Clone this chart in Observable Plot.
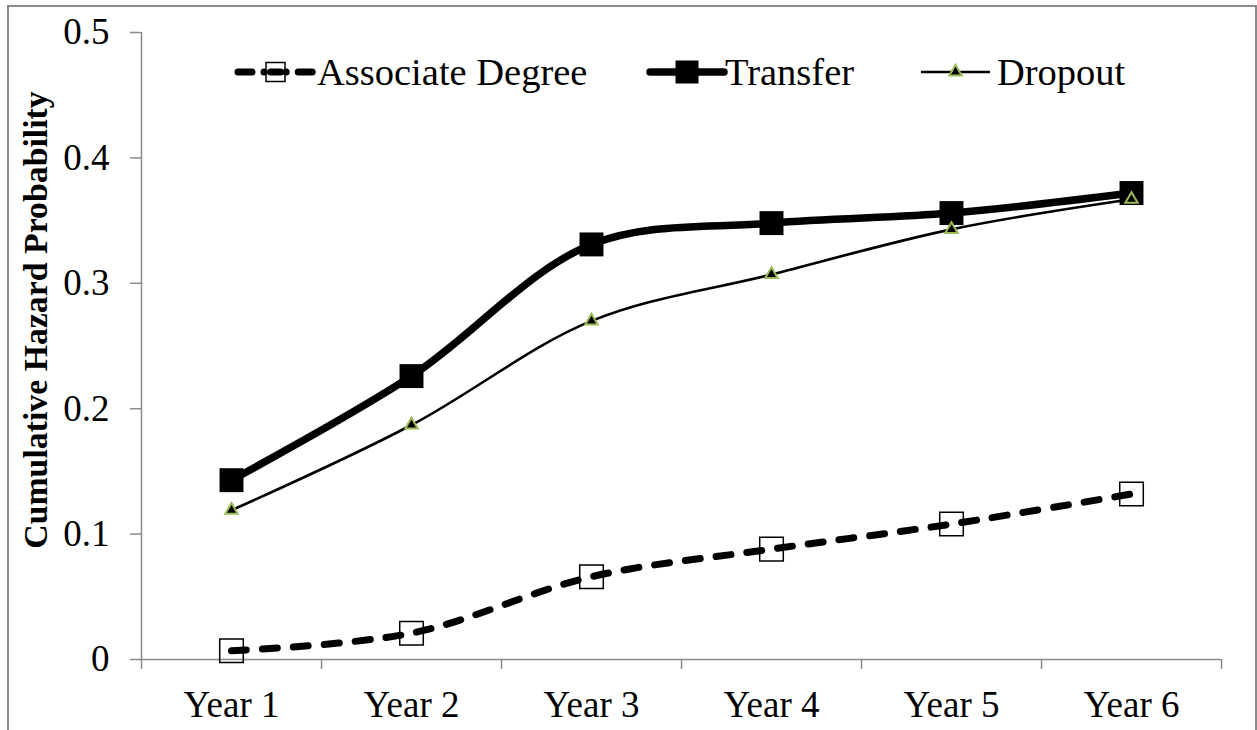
<!DOCTYPE html>
<html>
<head>
<meta charset="utf-8">
<script src="https://cdn.jsdelivr.net/npm/d3@7"></script>
<script src="https://cdn.jsdelivr.net/npm/@observablehq/plot@0.6"></script>
<style>
  html, body { margin: 0; padding: 0; background: #fff; }
  #wrap { position: relative; width: 1257px; height: 730px; overflow: hidden; font-family: "Liberation Serif", "Times New Roman", serif; }
  #frame { position: absolute; left: 7px; top: 5px; width: 1250px; height: 800px; border-left: 2px solid #8a8a8a; border-top: 2px solid #8a8a8a; border-right: 2px solid #8a8a8a; box-sizing: border-box; pointer-events: none; }
  #chart { position: absolute; left: 0; top: 0; }
  #legend { position: absolute; left: 0; top: 0; }
</style>
</head>
<body>
<div id="wrap">
  <div id="chart"></div>
  <div id="legend"></div>
  <div id="frame"></div>
</div>
<script>
const categories = ["Year 1", "Year 2", "Year 3", "Year 4", "Year 5", "Year 6"];
const associateDegree = [0.007, 0.021, 0.066, 0.088, 0.108, 0.132];
const transfer = [0.143, 0.226, 0.331, 0.348, 0.356, 0.372];
const dropout = [0.119, 0.187, 0.270, 0.307, 0.343, 0.367];
const yTicks = [0, 0.1, 0.2, 0.3, 0.4, 0.5];
const seriesNames = ["Associate Degree", "Transfer", "Dropout"];
const yLabel = "Cumulative Hazard Probability";

const pos = categories.map((c, i) => i + 1);
const boundaries = [0.5, ...pos.map(p => p + 0.5)];
const toRows = vals => vals.map((v, i) => ({x: pos[i], y: v, cat: categories[i]}));
const assocRows = toRows(associateDegree);
const transferRows = toRows(transfer);
const dropoutRows = toRows(dropout);

const axisGray = "#8a8a8a";
const green = "#9BBB59";
const FONT = "'Liberation Serif', 'Times New Roman', serif";

const plot = Plot.plot({
  width: 1257,
  height: 730,
  marginLeft: 141,
  marginRight: 36,
  marginTop: 32,
  marginBottom: 71,
  style: {fontFamily: FONT, fontSize: "37px", color: "#000", background: "#fff"},
  x: {type: "linear", domain: [0.5, 6.5]},
  y: {domain: [0, 0.5]},
  marks: [
    Plot.ruleY([0], {stroke: axisGray, strokeWidth: 1.5}),
    Plot.ruleX([0.5], {y1: 0, y2: 0.5, stroke: axisGray, strokeWidth: 1.5}),
    Plot.axisY({ticks: yTicks, tickSize: 11, tickPadding: 21, stroke: axisGray, strokeWidth: 1.5, tickFormat: d => String(d), label: null, fill: "#000", fontSize: 37}),
    Plot.axisX({ticks: boundaries, tickSize: 10, tickFormat: () => "", stroke: axisGray, strokeWidth: 1.5, label: null}),
    Plot.axisX({ticks: pos, tickSize: 0, tickPadding: 31, tickFormat: d => categories[d - 1], label: null, fill: "#000", fontSize: 37}),
    Plot.text([yLabel], {frameAnchor: "left", textAnchor: "middle", dx: -105, dy: -26, rotate: -90, text: d => d, fontWeight: "bold", fontSize: 33.8, fill: "#000"}),
    // Associate Degree
    Plot.line(assocRows, {x: "x", y: "y", curve: "catmull-rom", stroke: "#000", strokeWidth: 7, strokeDasharray: "15,16", strokeLinecap: "round"}),
    Plot.dot(assocRows, {x: "x", y: "y", symbol: "square", r: 13.3, fill: "none", stroke: "#000", strokeWidth: 1.5}),
    // Transfer
    Plot.line(transferRows, {x: "x", y: "y", curve: "catmull-rom", stroke: "#000", strokeWidth: 7.5, strokeLinecap: "round"}),
    Plot.dot(transferRows, {x: "x", y: "y", symbol: "square", r: 13.5, fill: "#000", stroke: "none"}),
    // Dropout
    Plot.line(dropoutRows, {x: "x", y: "y", curve: "catmull-rom", stroke: "#000", strokeWidth: 2.6}),
    Plot.dot(dropoutRows, {x: "x", y: "y", symbol: "triangle", r: 4.6, fill: "#000", stroke: green, strokeWidth: 2})
  ]
});
document.getElementById("chart").appendChild(plot);

// Legend (inside the plot area, top)
const leg = d3.select("#legend").append("svg")
  .attr("width", 1257).attr("height", 110)
  .style("font-family", FONT);
const items = [
  {name: seriesNames[0], x0: 238, x1: 313, tx: 317, kind: "assoc"},
  {name: seriesNames[1], x0: 650, x1: 724, tx: 725, kind: "transfer"},
  {name: seriesNames[2], x0: 921, x1: 990, tx: 997, kind: "dropout"}
];
const ly = 72;
items.forEach(it => {
  const g = leg.append("g");
  const mx = (it.x0 + it.x1) / 2;
  if (it.kind === "assoc") {
    g.append("line").attr("x1", it.x0).attr("x2", it.x1).attr("y1", ly).attr("y2", ly)
      .attr("stroke", "#000").attr("stroke-width", 7).attr("stroke-linecap", "round")
      .attr("stroke-dasharray", "14,12,0.1,22,0.1,12");
    g.append("rect").attr("x", mx - 9.5).attr("y", ly - 9.5).attr("width", 19).attr("height", 19)
      .attr("fill", "none").attr("stroke", "#000").attr("stroke-width", 1.5);
    g.append("line").attr("x1", mx - 5).attr("x2", mx + 5).attr("y1", ly).attr("y2", ly)
      .attr("stroke", "#000").attr("stroke-width", 7).attr("stroke-linecap", "round");
  } else if (it.kind === "transfer") {
    g.append("line").attr("x1", it.x0).attr("x2", it.x1).attr("y1", ly).attr("y2", ly)
      .attr("stroke", "#000").attr("stroke-width", 7.5).attr("stroke-linecap", "round");
    g.append("rect").attr("x", mx - 11.5).attr("y", ly - 11.5).attr("width", 23).attr("height", 23)
      .attr("fill", "#000");
  } else {
    g.append("line").attr("x1", it.x0).attr("x2", it.x1).attr("y1", ly).attr("y2", ly)
      .attr("stroke", "#000").attr("stroke-width", 2.6);
    g.append("path").attr("transform", `translate(${mx},${ly})`)
      .attr("d", d3.symbol(d3.symbolTriangle, 4.6 * 4.6 * Math.PI)())
      .attr("fill", "#000").attr("stroke", green).attr("stroke-width", 2);
  }
  g.append("text").attr("x", it.tx).attr("y", ly + 13).attr("font-size", 38.5).attr("fill", "#000").text(it.name);
});
</script>
</body>
</html>
